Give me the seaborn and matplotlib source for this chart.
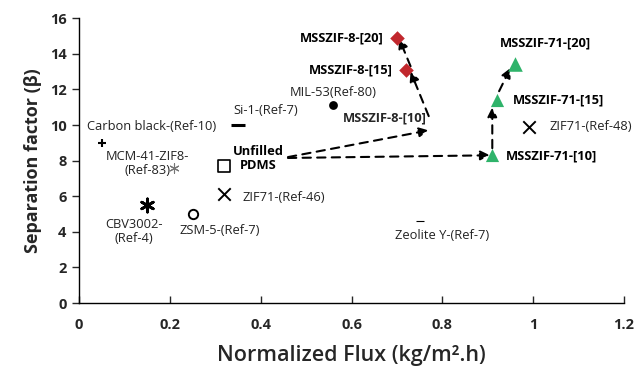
import matplotlib
matplotlib.use("Agg")
import matplotlib.pyplot as plt
import seaborn as sns
import pandas as pd

# ---- data ----
names = ["Carbon black", "MCM-41-ZIF8", "Unfilled PDMS", "MIL-53", "Si-1", "ZIF71-46",
         "CBV3002", "ZSM-5", "Zeolite Y", "ZIF71-48",
         "MSSZIF-8-[15]", "MSSZIF-8-[20]",
         "MSSZIF-71-[10]", "MSSZIF-71-[15]", "MSSZIF-71-[20]"]
flux = [0.05, 0.21, 0.32, 0.56, 0.35, 0.32, 0.15, 0.25, 0.75, 0.99, 0.72, 0.70, 0.91, 0.92, 0.96]
sep = [9.0, 7.6, 7.7, 11.1, 10.0, 6.1, 5.5, 5.0, 4.6, 9.9, 13.1, 14.9, 8.3, 11.4, 13.4]

labels = ["Carbon black-(Ref-10)", "MCM-41-ZIF8-\n(Ref-83)", "Unfilled\nPDMS", "MIL-53(Ref-80)",
          "Si-1-(Ref-7)", "ZIF71-(Ref-46)", "CBV3002-\n(Ref-4)", "ZSM-5-(Ref-7)",
          "Zeolite Y-(Ref-7)", "ZIF71-(Ref-48)", "MSSZIF-8-[15]", "MSSZIF-8-[20]",
          "MSSZIF-71-[10]", "MSSZIF-71-[15]", "MSSZIF-71-[20]"]
label_x = [0.16, 0.15, 0.395, 0.56, 0.41, 0.36, 0.12, 0.31, 0.80, 1.035, 0.69, 0.67, 0.94, 0.955, 1.027]
label_y = [9.9, 7.85, 8.1, 11.85, 10.8, 5.95, 4.0, 4.1, 3.8, 9.9, 13.1, 14.9, 8.25, 11.4, 14.6]
label_bold = [False, False, True, False, False, False, False, False, False, False, True, True, True, True, True]
label_ha = ["center", "center", "center", "center", "center", "left", "center", "center",
            "center", "left", "right", "right", "left", "left", "center"]

extra_label = "MSSZIF-8-[10]"
extra_xy = (0.58, 10.4)

# arrows (start -> end)
arrows = [((0.46, 8.2), (0.77, 9.7)),
          ((0.46, 8.15), (0.905, 8.3)),
          ((0.77, 10.5), (0.73, 13.0)),
          ((0.73, 13.3), (0.705, 14.85)),
          ((0.91, 8.7), (0.91, 11.0)),
          ((0.925, 11.9), (0.95, 13.2))]

xticks = [0, 0.2, 0.4, 0.6, 0.8, 1, 1.2]
yticks = list(range(0, 17, 2))

# ---- styles ----
styles = {
    "Carbon black": dict(marker="+", s=40, color="black", linewidth=1.5),
    "MCM-41-ZIF8": dict(marker=(6, 2, 0), s=45, color="#777777", linewidth=0.8),
    "Unfilled PDMS": dict(marker="s", s=80, facecolor="white", edgecolor="black", linewidth=1.2),
    "MIL-53": dict(marker="o", s=40, color="black", linewidth=0),
    "Si-1": dict(marker="_", s=90, color="black", linewidth=2.2),
    "ZIF71-46": dict(marker="x", s=80, color="black", linewidth=1.4),
    "CBV3002": dict(marker=(6, 2, 0), s=90, color="black", linewidth=2.0),
    "ZSM-5": dict(marker="o", s=45, facecolor="white", edgecolor="black", linewidth=1.4),
    "Zeolite Y": dict(marker="_", s=40, color="black", linewidth=0.8),
    "ZIF71-48": dict(marker="x", s=80, color="black", linewidth=1.4),
    "MSSZIF-8-[15]": dict(marker="D", s=55, color="#c1272d", linewidth=0),
    "MSSZIF-8-[20]": dict(marker="D", s=55, color="#c1272d", linewidth=0),
    "MSSZIF-71-[10]": dict(marker="^", s=90, color="#2fb36a", linewidth=0),
    "MSSZIF-71-[15]": dict(marker="^", s=90, color="#2fb36a", linewidth=0),
    "MSSZIF-71-[20]": dict(marker="^", s=110, color="#2fb36a", linewidth=0),
}

sns.set_style("ticks")
plt.rcParams["font.family"] = ["Open Sans", "DejaVu Sans"]

fig = plt.figure(figsize=(6.38, 3.71), dpi=100)
ax = fig.add_axes([0.124, 0.183, 0.854, 0.768])

df = pd.DataFrame({"name": names, "flux": flux, "sep": sep})
for n in names:
    sub = df[df["name"] == n]
    sns.scatterplot(data=sub, x="flux", y="sep", ax=ax, legend=False, zorder=3, **styles[n])

for (x0, y0), (x1, y1) in arrows:
    ax.annotate("", xy=(x1, y1), xytext=(x0, y0),
                arrowprops=dict(arrowstyle="-|>", linestyle=(0, (4, 3)), color="black",
                                lw=1.5, mutation_scale=14, shrinkA=0, shrinkB=0), zorder=2)

for t, x, y, b, ha in zip(labels, label_x, label_y, label_bold, label_ha):
    ax.text(x, y, t, ha=ha, va="center", fontsize=9.3, color="#222222" if not b else "black",
            fontweight="bold" if b else "normal", linespacing=1.1)
ax.text(extra_xy[0], extra_xy[1], extra_label, ha="left", va="center", fontsize=9.3, fontweight="bold")

ax.set_xlim(0, 1.2)
ax.set_ylim(0, 16)
ax.set_xticks(xticks)
ax.set_xticklabels([f"{v:g}" for v in xticks])
ax.set_yticks(yticks)
ax.tick_params(axis="x", direction="in", length=5, labelsize=10.5, pad=11, width=1)
ax.tick_params(axis="y", direction="out", length=5, labelsize=10.5, width=1, pad=4)
for lab in ax.get_xticklabels() + ax.get_yticklabels():
    lab.set_fontweight("bold")
sns.despine(ax=ax)
for sp in ("left", "bottom"):
    ax.spines[sp].set_color("black")
    ax.spines[sp].set_linewidth(1.0)

ax.set_xlabel("Normalized Flux (kg/m².h)", fontsize=15.5, fontweight="semibold", labelpad=9)
ax.set_ylabel("Separation factor (β)", fontsize=13, fontweight="bold", labelpad=6)

fig.savefig("out.png", dpi=100)
